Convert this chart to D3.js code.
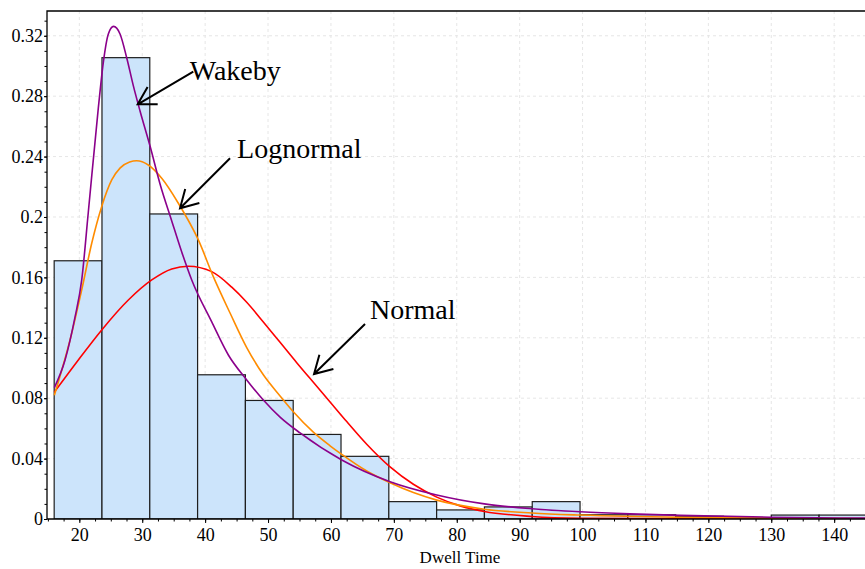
<!DOCTYPE html>
<html>
<head>
<meta charset="utf-8">
<script src="https://cdn.jsdelivr.net/npm/d3@7/dist/d3.min.js"></script>
<style>
	body { margin: 0; background: #fff; }
</style>
</head>
<body>
<svg id="chart" width="865" height="569"></svg>
<script>
// histogram: bin edges (dwell time) and relative frequency per bin
const binEdges = [16.0, 23.6, 31.2, 38.8, 46.4, 54.0, 61.6, 69.2, 76.8, 84.4, 92.0, 99.6, 107.2, 114.8, 122.4, 130.0, 137.6, 145.2];
const binFreq = [0.171, 0.3055, 0.202, 0.0955, 0.0785, 0.056, 0.0415, 0.0115, 0.006, 0.008, 0.0115, 0.0028, 0.0028, 0.0018, 0.0008, 0.0026, 0.0026];

// fitted curves as [dwell time, probability]
const wakeby = [[16.03, 0.087], [17.73, 0.1053], [19.32, 0.1338], [20.38, 0.1583], [21.43, 0.2033], [23.02, 0.2722],
	[23.82, 0.3026], [24.61, 0.3212], [25.44, 0.3262], [26.47, 0.3212], [27.54, 0.3053], [28.59, 0.2868], [29.65, 0.2702],
	[31.24, 0.247], [32.83, 0.2219], [34.69, 0.1974], [36.28, 0.1768], [37.87, 0.1583], [41.05, 0.1305], [43.69, 0.1086],
	[46.61, 0.0921], [49.25, 0.0788], [51.91, 0.0675], [55.09, 0.057], [61.72, 0.0391], [69.4, 0.0247], [76.82, 0.0159],
	[84.39, 0.0100], [91.92, 0.0068], [99.6, 0.0048], [107.55, 0.0034], [115.5, 0.0024], [129.8, 0.0012], [144.9, 0.0006]];
const lognormal = [[16.03, 0.082], [18.52, 0.1185], [20.38, 0.1517], [21.97, 0.1826], [23.56, 0.207], [25.15, 0.2245],
	[26.5, 0.2325], [28.0, 0.2364], [29.12, 0.2372], [30.97, 0.2344], [33.1, 0.2256], [35.74, 0.2091], [38.92, 0.1848],
	[41.3, 0.1605], [43.96, 0.1364], [46.61, 0.1135], [49.25, 0.0955], [51.91, 0.0815], [54.02, 0.071], [57.2, 0.0575],
	[59.86, 0.0485], [61.72, 0.0428], [65.69, 0.0318], [69.4, 0.024], [73.1, 0.0175], [76.82, 0.0125], [84.39, 0.0065],
	[91.92, 0.004], [99.6, 0.0026], [115.5, 0.0011], [144.9, 0.0003]];
const normal = [[16.03, 0.084], [19.84, 0.1053], [23.56, 0.1252], [27.79, 0.145], [31.51, 0.1583], [34.69, 0.1656],
	[37.33, 0.1674], [41.05, 0.1638], [44.23, 0.1535], [46.61, 0.1435], [49.25, 0.1305], [51.91, 0.117], [54.56, 0.1035],
	[57.2, 0.0905], [59.86, 0.0775], [62.51, 0.0645], [65.69, 0.0495], [69.4, 0.0345], [73.1, 0.023], [76.82, 0.0145],
	[80.53, 0.0087], [84.39, 0.005], [91.92, 0.0017], [99.6, 0.0005], [115.5, 0.0001], [144.9, 0]];

const seriesNames = ["Normal", "Lognormal", "Wakeby"];
const seriesColors = ["#ff0000", "#ff8c00", "#8b008b"];

// arrow tips of the labels, in data units
const labelNames = ["Wakeby", "Lognormal", "Normal"];
const labelTipX = [29.28, 36.01, 57.31];
const labelTipY = [0.2746, 0.2058, 0.096];

const xTicks = [20, 30, 40, 50, 60, 70, 80, 90, 100, 110, 120, 130, 140];
const yTicks = [0, 0.04, 0.08, 0.12, 0.16, 0.2, 0.24, 0.28, 0.32];
const yTickLabels = ["0", "0.04", "0.08", "0.12", "0.16", "0.2", "0.24", "0.28", "0.32"];

const serif = '"Liberation Serif", "Times New Roman", serif';
const svg = d3.select("#chart");
const plotLeft = 47, plotTop = 11, plotRight = 865, plotBottom = 519;

const x = d3.scaleLinear().domain([14.86, 144.9]).range([plotLeft, plotRight]);
const y = d3.scaleLinear().domain([0, 0.3364]).range([plotBottom, plotTop]);

svg.append("defs").append("clipPath").attr("id", "plot-clip")
	.append("rect").attr("x", plotLeft).attr("y", plotTop)
	.attr("width", plotRight - plotLeft).attr("height", plotBottom - plotTop);

// grid
const grid = svg.append("g").attr("stroke", "#e6e6e6").attr("stroke-dasharray", "3,3").attr("stroke-width", 1);
grid.selectAll("line.v").data(xTicks).join("line").attr("class", "v")
	.attr("x1", d => x(d)).attr("x2", d => x(d)).attr("y1", plotTop).attr("y2", plotBottom);
grid.selectAll("line.h").data(yTicks.slice(1)).join("line").attr("class", "h")
	.attr("x1", plotLeft).attr("x2", plotRight).attr("y1", d => y(d)).attr("y2", d => y(d));

// bars
const bins = binFreq.map((f, i) => ({x0: binEdges[i], x1: binEdges[i + 1], f: f}));
svg.append("g").attr("clip-path", "url(#plot-clip)")
	.selectAll("rect").data(bins).join("rect")
	.attr("x", d => x(d.x0)).attr("width", d => x(d.x1) - x(d.x0))
	.attr("y", d => y(d.f)).attr("height", d => y(0) - y(d.f))
	.attr("fill", "#cce4fb").attr("stroke", "#1e1e1e").attr("stroke-width", 1.2);

// curves
const line = d3.line().x(d => x(d[0])).y(d => y(d[1])).curve(d3.curveMonotoneX);
const curves = svg.append("g").attr("clip-path", "url(#plot-clip)").attr("fill", "none").attr("stroke-width", 1.6);
[normal, lognormal, wakeby].forEach((pts, i) => {
	curves.append("path").datum(pts).attr("d", line).attr("stroke", seriesColors[i]).attr("class", seriesNames[i]);
});

// axes
const xAxis = svg.append("g").attr("transform", `translate(0,${plotBottom})`)
	.call(d3.axisBottom(x).tickValues(xTicks).tickSize(4).tickPadding(5));
svg.append("g").attr("transform", `translate(0,${plotBottom})`)
	.call(d3.axisBottom(x).tickValues(d3.range(15, 145, 2.5)).tickSize(2.5).tickFormat(""))
	.select(".domain").remove();
const yAxis = svg.append("g").attr("transform", `translate(${plotLeft},0)`)
	.call(d3.axisLeft(y).tickValues(yTicks).tickFormat((d, i) => yTickLabels[i]).tickSize(3).tickPadding(1));
svg.append("g").attr("transform", `translate(${plotLeft},0)`)
	.call(d3.axisLeft(y).tickValues(d3.range(0, 0.335, 0.01)).tickSize(2.5).tickFormat(""))
	.select(".domain").remove();
[xAxis, yAxis].forEach(g => {
	g.select(".domain").remove();
	g.selectAll("text").style("font-family", serif).style("font-size", "18px").attr("fill", "#000");
});

// frame
svg.append("path").attr("fill", "none").attr("stroke", "#000").attr("stroke-width", 1.3)
	.attr("d", `M${plotRight},${plotTop}H${plotLeft}V${plotBottom}H${plotRight}`);

svg.append("text").attr("x", 460).attr("y", 563).attr("text-anchor", "middle")
	.style("font-family", serif).style("font-size", "17px").text("Dwell Time");

// labels with open arrows
const shaft = {Wakeby: [55.6, -32.6, 52, -24], Lognormal: [50, -50, 57, -50], Normal: [51, -50, 56, -55]};
const notes = svg.append("g");
labelNames.forEach((name, i) => {
	const tx = x(labelTipX[i]), ty = y(labelTipY[i]);
	const s = shaft[name];
	const ang = Math.atan2(s[1], s[0]);
	const len = 20;
	const w1 = [tx + len * Math.cos(ang - Math.PI / 6), ty + len * Math.sin(ang - Math.PI / 6)];
	const w2 = [tx + len * Math.cos(ang + Math.PI / 6), ty + len * Math.sin(ang + Math.PI / 6)];
	notes.append("path").attr("fill", "none").attr("stroke", "#000").attr("stroke-width", 2)
		.attr("d", `M${tx + s[0]},${ty + s[1]}L${tx},${ty}M${w1[0]},${w1[1]}L${tx},${ty}L${w2[0]},${w2[1]}`);
	notes.append("text").attr("x", tx + s[2]).attr("y", ty + s[3])
		.style("font-family", serif).style("font-size", "28px").text(name);
});
</script>
</body>
</html>
